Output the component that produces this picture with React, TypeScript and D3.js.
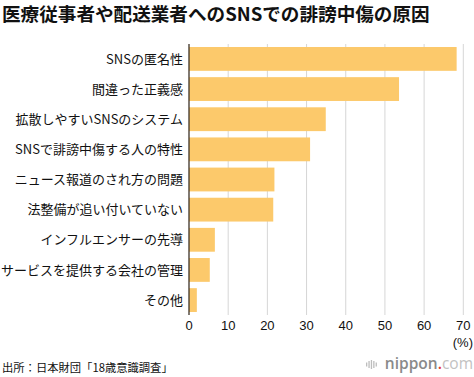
import React from "react";
import * as d3 from "d3";

const title = "医療従事者や配送業者へのSNSでの誹謗中傷の原因";
const categories = [
  "SNSの匿名性",
  "間違った正義感",
  "拡散しやすいSNSのシステム",
  "SNSで誹謗中傷する人の特性",
  "ニュース報道のされ方の問題",
  "法整備が追い付いていない",
  "インフルエンサーの先導",
  "サービスを提供する会社の管理",
  "その他",
];
const values = [68.3, 53.6, 34.9, 30.9, 21.8, 21.5, 6.6, 5.3, 2.0];
const ticks = [0, 10, 20, 30, 40, 50, 60, 70];
const unitLabel = "(%)";
const source = "出所：日本財団「18歳意識調査」";

const W = 474;
const H = 377;
const JP = "'Noto Sans CJK JP', 'Noto Sans', sans-serif";
const SANS = "'Liberation Sans', Arial, sans-serif";

export default function App() {
  const x = d3.scaleLinear().domain([0, 70]).range([189, 463.3]);
  const y = d3
    .scaleBand<string>()
    .domain(categories)
    .range([44, 315])
    .paddingInner(0.21)
    .paddingOuter(0.1);

  return (
    <svg
      width={W}
      height={H}
      style={{ position: "absolute", left: 0, top: 0, background: "#fff" }}
    >
      <text
        x={2}
        y={21}
        fontFamily={JP}
        fontWeight={700}
        fontSize={18.6}
        fill="#111"
      >
        {title}
      </text>
      {ticks.map((t) =>
        t === 0 ? null : (
          <line
            key={"g" + t}
            x1={x(t)}
            x2={x(t)}
            y1={44}
            y2={315}
            stroke="#d6d6d6"
            strokeWidth={1}
          />
        )
      )}
      {categories.map((c, i) => (
        <rect
          key={"b" + c}
          x={x(0)}
          y={y(c)}
          width={x(values[i]) - x(0)}
          height={y.bandwidth()}
          fill="#fcc96b"
        />
      ))}
      <line x1={x(0)} x2={x(0)} y1={44} y2={315} stroke="#3d3226" strokeWidth={1.3} />
      {categories.map((c) => (
        <text
          key={"l" + c}
          x={183}
          y={(y(c) as number) + y.bandwidth() / 2}
          dy="0.36em"
          textAnchor="end"
          fontFamily={JP}
          fontSize={13}
          fill="#111"
        >
          {c}
        </text>
      ))}
      {ticks.map((t) => (
        <text
          key={"t" + t}
          x={x(t)}
          y={330}
          textAnchor="middle"
          fontFamily={SANS}
          fontSize={13}
          fill="#111"
        >
          {t}
        </text>
      ))}
      <text
        x={473}
        y={347}
        textAnchor="end"
        fontFamily={SANS}
        fontSize={13}
        fill="#111"
      >
        {unitLabel}
      </text>
      <text x={2} y={372} fontFamily={JP} fontSize={11.3} fill="#111">
        {source}
      </text>
      <g fill="#bdbdbd">
        {[0, 2.4, 4.8, 7.2, 9.6].map((dx, i) => {
          const h = [4, 7, 9, 7, 4][i];
          return (
            <rect
              key={"ic" + i}
              x={366 + dx}
              y={364.5 - h / 2}
              width={1.3}
              height={h}
            />
          );
        })}
      </g>
      <text
        x={473}
        y={368.5}
        textAnchor="end"
        fontFamily={"'Open Sans', sans-serif"}
        fontSize={15.5}
        fontWeight={600}
      >
        <tspan fill="#8a8a8a">nippon</tspan>
        <tspan fill="#e2362f">.</tspan>
        <tspan fill="#c2c2c2" fontWeight={400}>com</tspan>
      </text>
    </svg>
  );
}
